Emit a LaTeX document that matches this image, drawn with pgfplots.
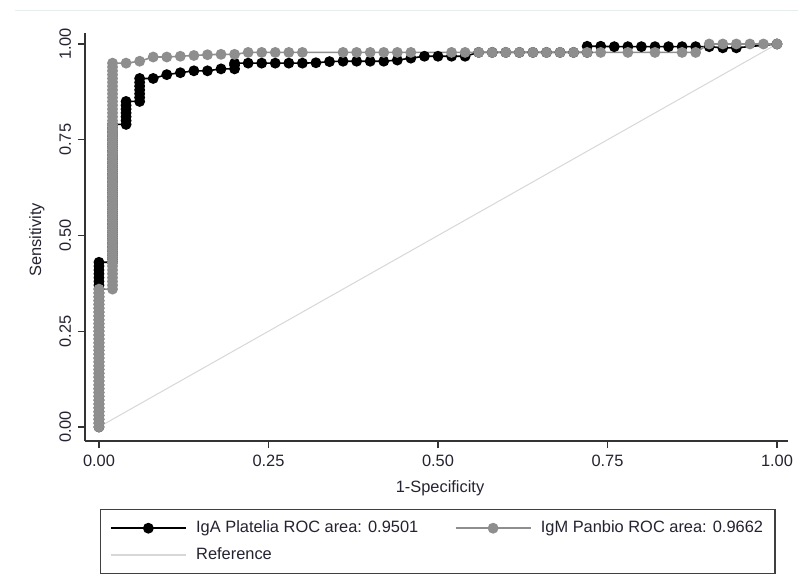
\documentclass[border=0pt]{standalone}
\usepackage{fontspec}
\setmainfont{Liberation Sans}
\usepackage{pgfplots}
\pgfplotsset{compat=1.18}
\definecolor{txt}{RGB}{35,35,50}
\definecolor{grayser}{RGB}{142,142,142}
\definecolor{refl}{RGB}{215,215,215}
\begin{document}
\begin{tikzpicture}[x=1pt,y=1pt]
\useasboundingbox (0,0) rectangle (399,290);
\draw[color={rgb,255:red,232;green,238;blue,238}, line width=0.5pt] (7.5,284.5) -- (399,284.5);
\begin{axis}[
  at={(42.5pt,69.5pt)}, anchor=south west,
  scale only axis, width=351.5pt, height=204pt,
  xmin=-0.0206, xmax=1.0162, ymin=-0.0366, ymax=1.0287,
  axis lines=left, axis line style={-, black!80, line width=0.6pt},
  tick align=outside, major tick length=3.5pt,
  tick style={black!80, line width=0.6pt},
  xtick={0,0.25,0.5,0.75,1}, ytick={0,0.25,0.5,0.75,1},
  xticklabels={0.00,0.25,0.50,0.75,1.00},
  yticklabels={0.00,0.25,0.50,0.75,1.00},
  ticklabel style={font=\fontsize{8.2}{9.8}\selectfont, text=txt},
  yticklabel style={rotate=90, anchor=south},
  label style={font=\fontsize{8.2}{9.8}\selectfont, text=txt},
  xlabel={1-Specificity}, ylabel={Sensitivity},
  xlabel style={at={(axis description cs:0.505,0)}, anchor=center, yshift=-23.5pt},
  ylabel style={at={(axis description cs:-0.0683,0.493)}, anchor=center},
  clip=false,
  legend columns=2, legend cell align=left,
  legend image code/.code={\path (0pt,0pt) (41pt,0pt);
    \draw[mark repeat=2,mark phase=2,#1] plot coordinates {(2pt,0pt)(20.75pt,0pt)(39.5pt,0pt)};},
  legend style={at={(0.0213,-0.1667)}, anchor=north west, draw=black!75, line width=0.6pt,
    inner xsep=2.75pt, inner ysep=2.6pt,
    nodes={inner xsep=3.25pt, inner ysep=2.8pt, text height=6pt, text depth=1.8pt,
      font=\fontsize{8.2}{9.8}\selectfont, text=txt},
    /tikz/every even column/.append style={column sep=13pt}},
]
% reference line
\addplot[refl, line width=0.5pt, forget plot] coordinates {(0,0)(1,1)};
% IgA Platelia
\addplot[black, line width=0.8pt, mark=*, mark size=2.3pt, mark options={fill=black}] coordinates {
(0,0)(0,0.01)(0,0.02)(0,0.03)(0,0.04)(0,0.05)(0,0.06)(0,0.07)(0,0.08)(0,0.09)
(0,0.10)(0,0.11)(0,0.12)(0,0.13)(0,0.14)(0,0.15)(0,0.16)(0,0.17)(0,0.18)(0,0.19)
(0,0.20)(0,0.21)(0,0.22)(0,0.23)(0,0.24)(0,0.25)(0,0.26)(0,0.27)(0,0.28)(0,0.29)
(0,0.30)(0,0.31)(0,0.32)(0,0.33)(0,0.34)(0,0.35)(0,0.36)(0,0.37)(0,0.38)(0,0.39)
(0,0.40)(0,0.41)(0,0.42)(0,0.43)
(0.02,0.43)(0.02,0.44)(0.02,0.45)(0.02,0.46)(0.02,0.47)(0.02,0.48)(0.02,0.49)
(0.02,0.50)(0.02,0.51)(0.02,0.52)(0.02,0.53)(0.02,0.54)(0.02,0.55)(0.02,0.56)
(0.02,0.57)(0.02,0.58)(0.02,0.59)(0.02,0.60)(0.02,0.61)(0.02,0.62)(0.02,0.63)
(0.02,0.64)(0.02,0.65)(0.02,0.66)(0.02,0.67)(0.02,0.68)(0.02,0.69)(0.02,0.70)
(0.02,0.71)(0.02,0.72)(0.02,0.73)(0.02,0.74)(0.02,0.75)(0.02,0.76)(0.02,0.77)
(0.02,0.78)(0.02,0.79)
(0.04,0.79)(0.04,0.80)(0.04,0.81)(0.04,0.82)(0.04,0.83)(0.04,0.84)(0.04,0.85)
(0.06,0.85)(0.06,0.86)(0.06,0.87)(0.06,0.88)(0.06,0.89)(0.06,0.90)(0.06,0.91)
(0.08,0.91)(0.10,0.92)(0.12,0.925)(0.14,0.93)(0.16,0.93)(0.18,0.935)
(0.20,0.935)(0.20,0.945)(0.20,0.95)
(0.22,0.95)(0.24,0.95)(0.26,0.95)(0.28,0.95)(0.30,0.95)(0.32,0.951)(0.34,0.954)
(0.36,0.955)(0.38,0.955)(0.40,0.955)(0.42,0.955)(0.44,0.958)(0.46,0.963)
(0.48,0.968)(0.50,0.968)(0.52,0.968)(0.54,0.968)
(0.56,0.978)(0.58,0.978)(0.60,0.978)(0.62,0.978)(0.64,0.978)(0.66,0.978)
(0.68,0.978)(0.70,0.978)(0.72,0.978)
(0.72,0.994)(0.74,0.994)(0.76,0.993)(0.78,0.993)(0.80,0.993)(0.82,0.993)
(0.84,0.993)(0.86,0.993)(0.88,0.993)(0.90,0.993)(0.92,0.99)(0.94,0.99)(1,1)
};
\addlegendentry{IgA Platelia ROC area: 0.9501}
% IgM Panbio
\addplot[grayser, line width=0.8pt, mark=*, mark size=2.3pt, mark options={fill=grayser}] coordinates {
(0,0)(0,0.01)(0,0.02)(0,0.03)(0,0.04)(0,0.05)(0,0.06)(0,0.07)(0,0.08)(0,0.09)
(0,0.10)(0,0.11)(0,0.12)(0,0.13)(0,0.14)(0,0.15)(0,0.16)(0,0.17)(0,0.18)(0,0.19)
(0,0.20)(0,0.21)(0,0.22)(0,0.23)(0,0.24)(0,0.25)(0,0.26)(0,0.27)(0,0.28)(0,0.29)
(0,0.30)(0,0.31)(0,0.32)(0,0.33)(0,0.34)(0,0.35)(0,0.36)
(0.02,0.36)(0.02,0.37)(0.02,0.38)(0.02,0.39)(0.02,0.40)(0.02,0.41)(0.02,0.42)
(0.02,0.43)(0.02,0.44)(0.02,0.45)(0.02,0.46)(0.02,0.47)(0.02,0.48)(0.02,0.49)
(0.02,0.50)(0.02,0.51)(0.02,0.52)(0.02,0.53)(0.02,0.54)(0.02,0.55)(0.02,0.56)
(0.02,0.57)(0.02,0.58)(0.02,0.59)(0.02,0.60)(0.02,0.61)(0.02,0.62)(0.02,0.63)
(0.02,0.64)(0.02,0.65)(0.02,0.66)(0.02,0.67)(0.02,0.68)(0.02,0.69)(0.02,0.70)
(0.02,0.71)(0.02,0.72)(0.02,0.73)(0.02,0.74)(0.02,0.75)(0.02,0.76)(0.02,0.77)
(0.02,0.78)(0.02,0.79)(0.02,0.80)(0.02,0.81)(0.02,0.82)(0.02,0.83)(0.02,0.84)
(0.02,0.85)(0.02,0.86)(0.02,0.87)(0.02,0.88)(0.02,0.89)(0.02,0.90)(0.02,0.91)
(0.02,0.92)(0.02,0.93)(0.02,0.94)(0.02,0.95)
(0.04,0.95)(0.06,0.955)(0.08,0.966)(0.10,0.966)(0.12,0.968)(0.14,0.97)
(0.16,0.972)(0.18,0.973)(0.20,0.973)
(0.22,0.978)(0.24,0.978)(0.26,0.978)(0.28,0.978)(0.30,0.978)
(0.36,0.978)(0.38,0.978)(0.40,0.978)(0.42,0.978)(0.44,0.978)(0.46,0.978)
(0.52,0.978)(0.54,0.978)(0.56,0.978)(0.58,0.978)(0.60,0.978)(0.62,0.978)
(0.64,0.978)(0.66,0.978)(0.68,0.978)(0.70,0.978)(0.72,0.978)(0.74,0.978)
(0.78,0.978)(0.82,0.978)(0.86,0.978)(0.88,0.978)
(0.90,1)(0.92,1)(0.94,1)(0.96,1)(0.98,1)(1,1)
};
\addlegendentry{IgM Panbio ROC area: 0.9662}
\addlegendimage{refl, line width=0.8pt}
\addlegendentry{Reference}
\end{axis}
\end{tikzpicture}
\end{document}
